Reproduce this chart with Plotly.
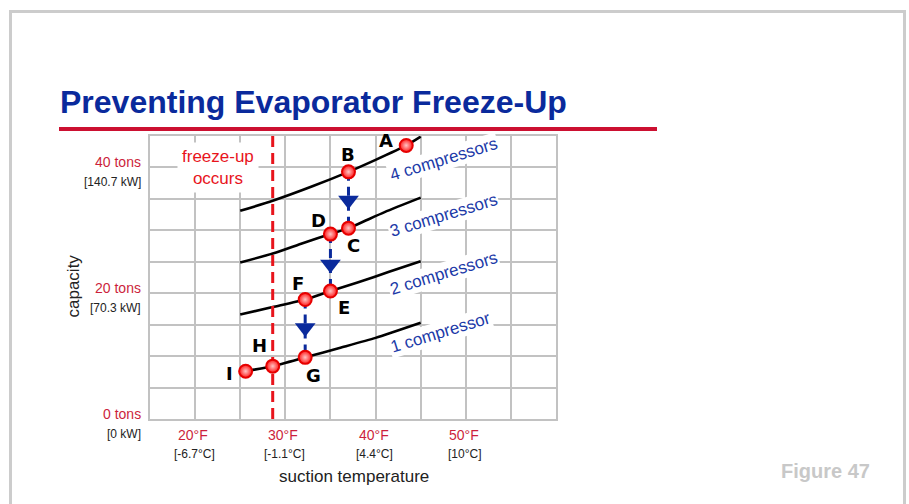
import plotly.graph_objects as go

# ---- data -------------------------------------------------------------
# capacity curves (tons) vs suction temperature (°F), one per stage
curve_temps = {
    "4": [25, 28.6, 33.0, 37.0, 40.0, 43.4, 45.0],
    "3": [25, 28.6, 32.0, 35.0, 37.0, 41.0, 45.0],
    "2": [25, 28.6, 32.2, 35.0, 38.0, 41.5, 45.0],
    "1": [25.0, 25.6, 28.6, 32.2, 36.0, 40.0, 45.0],
}
curve_caps = {
    "4": [33.1, 34.7, 37.0, 39.3, 41.2, 43.5, 44.9],
    "3": [24.9, 26.3, 28.0, 29.4, 30.35, 32.9, 35.2],
    "2": [16.6, 17.8, 19.0, 20.35, 21.7, 23.4, 25.1],
    "1": [7.4, 7.6, 8.4, 9.8, 11.3, 12.9, 15.3],
}

# operating points
point_names = ["A", "B", "C", "D", "E", "F", "G", "H", "I"]
point_temps = [43.4, 37.0, 37.0, 35.0, 35.0, 32.2, 32.2, 28.6, 25.6]
point_caps = [43.5, 39.3, 30.35, 29.4, 20.35, 19.0, 9.8, 8.4, 7.6]

# compressor unloading steps (B->C, D->E, F->G)
step_temps = [37.0, 35.0, 32.2]
step_from = [39.3, 29.4, 19.0]
step_to = [30.35, 20.35, 9.8]
step_head = [34.8, 24.6, 14.5]

freeze_temp = 28.6

stage_labels = ["4 compressors", "3 compressors", "2 compressors", "1 compressor"]

x_ticks_f = [20, 30, 40, 50]
x_ticks_fl = ["20°F", "30°F", "40°F", "50°F"]
x_ticks_cl = ["[-6.7°C]", "[-1.1°C]", "[4.4°C]", "[10°C]"]

y_ticks = [40, 20, 0]
y_ticks_tl = ["40 tons", "20 tons", "0 tons"]
y_ticks_kl = ["[140.7 kW]", "[70.3 kW]", "[0 kW]"]

# ---- styling ----------------------------------------------------------
W, H = 909, 504
ML, MR, MT, MB = 150, 353, 136, 85
PW, PH = W - ML - MR, H - MT - MB
FONT = "Liberation Sans, Arial, Helvetica, sans-serif"
HEAVY = "DejaVu Sans, Liberation Sans, Arial, sans-serif"
NAVY = "#0a2a9c"
TEXT_BLUE = "#1c3aa8"
LABEL_RED = "#cc1f3c"
GRID = "#c2c2c2"


def px(xp):
    return (xp - ML) / PW


def py(yp):
    return (H - MB - yp) / PH


fig = go.Figure()

# capacity curves
for key in ["4", "3", "2", "1"]:
    fig.add_trace(go.Scatter(
        x=curve_temps[key], y=curve_caps[key], mode="lines",
        line=dict(color="black", width=2.6, shape="spline", smoothing=0.6),
        hoverinfo="skip", showlegend=False))

# freeze-up boundary
fig.add_trace(go.Scatter(
    x=[freeze_temp, freeze_temp], y=[0, 45], mode="lines",
    line=dict(color="#e8141c", width=3, dash="11px,6px"),
    hoverinfo="skip", showlegend=False))

# unloading steps: dashed stem + arrowhead
for t, a, b, h in zip(step_temps, step_from, step_to, step_head):
    fig.add_trace(go.Scatter(
        x=[t, t], y=[a, b], mode="lines",
        line=dict(color=NAVY, width=3, dash="9px,6px"),
        hoverinfo="skip", showlegend=False))
    fig.add_trace(go.Scatter(
        x=[t], y=[h], mode="markers",
        marker=dict(symbol="triangle-down", size=18, color=NAVY,
                    line=dict(width=0)),
        hoverinfo="skip", showlegend=False))

# operating points
fig.add_trace(go.Scatter(
    x=point_temps, y=point_caps, mode="markers",
    marker=dict(size=13, color="#ff1a1a",
                gradient=dict(type="radial", color="#ffc4c4"),
                line=dict(color="#e60000", width=2)),
    hoverinfo="skip", showlegend=False))

ann = []

# letter labels (pixel offsets from each point)
letter_off = {
    "A": (-20, 5), "B": (0, 17), "C": (5, -17), "D": (-12, 14),
    "E": (14, -16), "F": (-7, 16), "G": (8, -18), "H": (-13, 21), "I": (-16, -2),
}
for n, t, c in zip(point_names, point_temps, point_caps):
    dx, dy = letter_off[n]
    ann.append(dict(x=t, y=c, xref="x", yref="y", text=f"<b>{n}</b>",
                    showarrow=False, xshift=dx, yshift=dy,
                    xanchor="center", yanchor="middle",
                    font=dict(family=HEAVY, size=18, color="black")))

# stage labels along the curves
stage_pos = [(47.5, 41.2), (47.5, 32.4), (47.5, 23.2), (47.2, 13.7)]
for lbl, (lx, ly) in zip(stage_labels, stage_pos):
    ann.append(dict(x=lx, y=ly, xref="x", yref="y", text=lbl,
                    showarrow=False, textangle=-17, bgcolor="white",
                    borderpad=1, xanchor="center", yanchor="middle",
                    font=dict(family=FONT, size=17, color=TEXT_BLUE)))

# freeze-up note
ann.append(dict(x=px(218), y=py(167), xref="paper", yref="paper",
                text="freeze-up<br>occurs", showarrow=False,
                xanchor="center", yanchor="middle",
                bgcolor="white", borderpad=4, align="center",
                font=dict(family=FONT, size=17, color="#e8141c")))

# x tick labels
for v, fl, cl in zip(x_ticks_f, x_ticks_fl, x_ticks_cl):
    ann.append(dict(x=v, y=0, xref="x", yref="paper", text=fl,
                    showarrow=False, xanchor="center", yanchor="middle",
                    yshift=-16, xshift=-2,
                    font=dict(family=FONT, size=14, color=LABEL_RED)))
    ann.append(dict(x=v, y=0, xref="x", yref="paper", text=cl,
                    showarrow=False, xanchor="center", yanchor="middle",
                    yshift=-35, xshift=-1,
                    font=dict(family=FONT, size=12, color="#222222")))

# y tick labels
for v, tl, kl in zip(y_ticks, y_ticks_tl, y_ticks_kl):
    ann.append(dict(x=px(143), y=v, xref="paper", yref="y", text=tl,
                    showarrow=False, xanchor="right", yanchor="middle", yshift=5,
                    font=dict(family=FONT, size=14, color=LABEL_RED)))
    ann.append(dict(x=px(143), y=v, xref="paper", yref="y", text=kl,
                    showarrow=False, xanchor="right", yanchor="middle", yshift=-15,
                    font=dict(family=FONT, size=12, color="#222222")))

# axis titles
ann.append(dict(x=px(353.5), y=py(476.5), xref="paper", yref="paper",
                text="suction temperature", showarrow=False,
                xanchor="center", yanchor="middle",
                font=dict(family=FONT, size=17, color="#222222")))
ann.append(dict(x=px(73), y=py(286.5), xref="paper", yref="paper",
                text="capacity", showarrow=False, textangle=-90,
                xanchor="center", yanchor="middle",
                font=dict(family=FONT, size=17, color="#222222")))

# slide title and figure number
ann.append(dict(x=px(58), y=py(102), xref="paper", yref="paper",
                text="<b>Preventing Evaporator Freeze-Up</b>", showarrow=False,
                xanchor="left", yanchor="middle",
                font=dict(family=FONT, size=32, color=NAVY)))
ann.append(dict(x=px(825), y=py(471), xref="paper", yref="paper",
                text="<b>Figure 47</b>", showarrow=False,
                xanchor="center", yanchor="middle",
                font=dict(family=FONT, size=20, color="#c8c8c8")))

shapes = [
    # slide frame
    dict(type="rect", xref="paper", yref="paper",
         x0=px(10.5), x1=px(904.5), y0=py(520), y1=py(11.5),
         line=dict(color="#cccccc", width=3), layer="below"),
    # title rule
    dict(type="line", xref="paper", yref="paper",
         x0=px(59), x1=px(657), y0=py(129), y1=py(129),
         line=dict(color="#cc1031", width=4)),
]

fig.update_layout(
    width=W, height=H,
    margin=dict(l=ML, r=MR, t=MT, b=MB),
    paper_bgcolor="white", plot_bgcolor="white",
    showlegend=False,
    annotations=ann, shapes=shapes,
    xaxis=dict(range=[15, 60], dtick=5, tick0=15, showticklabels=False,
               showgrid=True, gridcolor=GRID, gridwidth=1.5, zeroline=False,
               showline=True, linecolor=GRID, linewidth=1.5, mirror=True,
               ticks="", fixedrange=True),
    yaxis=dict(range=[0, 45], dtick=5, tick0=0, showticklabels=False,
               showgrid=True, gridcolor=GRID, gridwidth=1.5, zeroline=False,
               showline=True, linecolor=GRID, linewidth=1.5, mirror=True,
               ticks="", fixedrange=True),
)

fig.write_html("out.html", config={"displayModeBar": False})
